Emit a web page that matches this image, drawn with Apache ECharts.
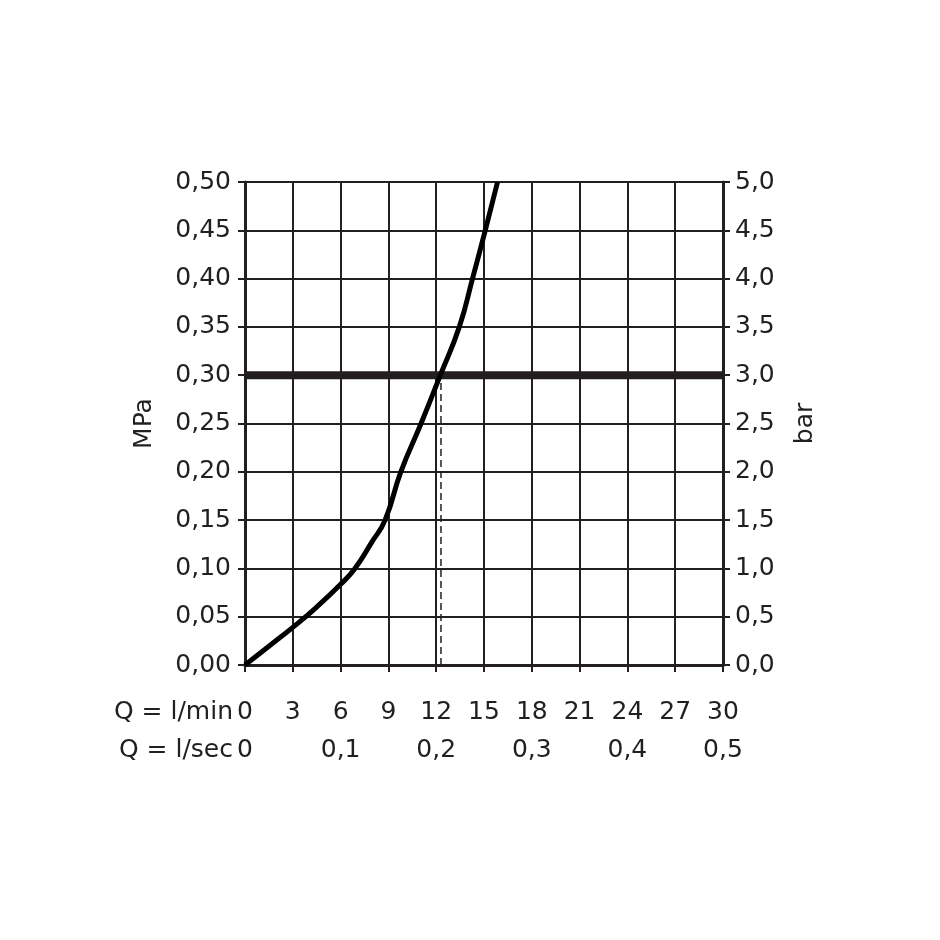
<!DOCTYPE html>
<html>
<head>
<meta charset="utf-8">
<script src="https://cdn.jsdelivr.net/npm/echarts@6/dist/echarts.min.js"></script>
<style>html,body{margin:0;padding:0;background:#fff;}#c{width:940px;height:940px;}</style>
</head>
<body>
<div id="c"></div>
<script>
// Flow rate Q in l/min and pressure in MPa
const flowLmin = [0, 1.5, 3, 4.5, 6, 6.9, 7.95, 8.79, 9.78, 11.05, 12.26, 13.45, 14.28, 15.08, 15.85];
const pressureMPa = [0, 0.0195, 0.039, 0.060, 0.0835, 0.10, 0.127, 0.15, 0.20, 0.25, 0.30, 0.35, 0.40, 0.45, 0.50];
// Reference operating pressure line and flow at that pressure
const refPressure = 0.30;
const refFlow = 12.3;
const xRange = [0, 30];
const lsecRange = [0, 0.5];
const mpaRange = [0, 0.5];
const barRange = [0, 5];
const xTitle1 = 'Q = l/min';
const xTitle2 = 'Q = l/sec';

const ink = '#231f20';
const font = 'DejaVu Sans';
const fs = 25;

const chart = echarts.init(document.getElementById('c'), null, {renderer: 'canvas'});
const comma = (v, d) => v === 0 ? '0' : v.toFixed(d).replace('.', ',');

chart.setOption({
  animation: false,
  backgroundColor: '#fff',
  grid: {left: 245, right: 217, top: 182, bottom: 275, containLabel: false},
  xAxis: [{
    type: 'value', min: xRange[0], max: xRange[1], interval: 3, position: 'bottom',
    axisLine: {show: true, onZero: false, lineStyle: {color: ink, width: 3}},
    axisTick: {show: true, length: 7, lineStyle: {color: ink, width: 2}},
    splitLine: {show: true, lineStyle: {color: ink, width: 2}},
    axisLabel: {color: ink, fontFamily: font, fontSize: fs, margin: 35, formatter: v => String(v)}
  }, {
    type: 'value', min: lsecRange[0], max: lsecRange[1], interval: 0.1, position: 'bottom',
    axisLine: {show: false}, axisTick: {show: false}, splitLine: {show: false},
    axisLabel: {color: ink, fontFamily: font, fontSize: fs, margin: 73, formatter: v => comma(v, 1)}
  }],
  yAxis: [{
    type: 'value', min: mpaRange[0], max: mpaRange[1], interval: 0.05, position: 'left',
    name: 'MPa', nameLocation: 'middle', nameRotate: 90, nameGap: 88,
    nameTextStyle: {color: ink, fontFamily: font, fontSize: fs},
    axisLine: {show: true, onZero: false, lineStyle: {color: ink, width: 3}},
    axisTick: {show: true, length: 7, lineStyle: {color: ink, width: 2}},
    splitLine: {show: true, lineStyle: {color: ink, width: 2}},
    axisLabel: {color: ink, fontFamily: font, fontSize: fs, margin: 14, formatter: v => v.toFixed(2).replace('.', ',')}
  }, {
    type: 'value', min: barRange[0], max: barRange[1], interval: 0.5, position: 'right',
    name: 'bar', nameLocation: 'middle', nameRotate: 90, nameGap: 70,
    nameTextStyle: {color: ink, fontFamily: font, fontSize: fs},
    axisLine: {show: true, onZero: false, lineStyle: {color: ink, width: 3}},
    axisTick: {show: true, length: 7, lineStyle: {color: ink, width: 2}},
    splitLine: {show: false},
    axisLabel: {color: ink, fontFamily: font, fontSize: fs, margin: 12, formatter: v => v.toFixed(1).replace('.', ',')}
  }],
  series: [{
    type: 'line', xAxisIndex: 0, yAxisIndex: 0, symbol: 'none',
    data: [[xRange[0], refPressure], [xRange[1], refPressure]],
    lineStyle: {color: ink, width: 8}, z: 3
  }, {
    type: 'line', xAxisIndex: 0, yAxisIndex: 0, symbol: 'none',
    data: [[refFlow, 0], [refFlow, refPressure]],
    lineStyle: {color: ink, width: 1.5, type: [7, 4]}, z: 3
  }, {
    type: 'line', xAxisIndex: 0, yAxisIndex: 0, symbol: 'none', smooth: 0.5,
    data: flowLmin.map((q, i) => [q, pressureMPa[i]]),
    lineStyle: {color: '#000', width: 5}, z: 4
  }]
});

// Row titles to the left of the two x label rows
const p0 = chart.convertToPixel({xAxisIndex: 0, yAxisIndex: 0}, [xRange[0], mpaRange[0]]);
chart.setOption({
  graphic: [{
    type: 'text', x: p0[0] - 12, y: p0[1] + 47,
    style: {text: xTitle1, fill: ink, font: fs + 'px "' + font + '"', align: 'right', verticalAlign: 'middle'}
  }, {
    type: 'text', x: p0[0] - 12, y: p0[1] + 85,
    style: {text: xTitle2, fill: ink, font: fs + 'px "' + font + '"', align: 'right', verticalAlign: 'middle'}
  }]
});
</script>
</body>
</html>
